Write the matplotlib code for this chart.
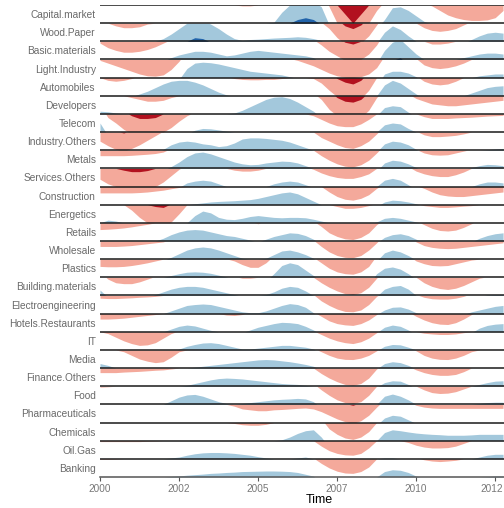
import numpy as np
import matplotlib
matplotlib.use("Agg")
import matplotlib.pyplot as plt
from matplotlib.transforms import ScaledTranslation

plt.rcParams['font.family'] = ['Liberation Sans', 'DejaVu Sans']

years = np.arange(52) * 0.25 + 2000.0

sectors = ["Capital.market", "Wood.Paper", "Basic.materials", "Light.Industry", "Automobiles",
           "Developers", "Telecom", "Industry.Others", "Metals", "Services.Others", "Construction",
           "Energetics", "Retails", "Wholesale", "Plastics", "Building.materials",
           "Electroengineering", "Hotels.Restaurants", "IT", "Media", "Finance.Others", "Food",
           "Pharmaceuticals", "Chemicals", "Oil.Gas", "Banking"]

capital_market = [0, 0, 0, 0, 0, 0, 0, 0, 0, 0, 0, 0, 0, 0, 0, 0, 0, 0, -0.05, -0.05, 0, 0, 0.05, 0.6, 1.0, 1.2,
                  1.3, 1.2, 0.9, -0.1, -1.0, -1.5, -2.0, -1.5, -1.0, -0.3, 0.2, 0.85, 0.9, 0.7, 0.4, 0.1,
                  -0.05, -0.3, -0.55, -0.7, -0.8, -0.85, -0.85, -0.82, -0.7, -0.3]
wood_paper = [0, 0, -0.15, -0.25, -0.25, -0.2, -0.05, 0, 0.15, 0.4, 0.7, 1.0, 1.2, 1.15, 0.95, 0.7, 0.4, 0.15,
              0.05, 0.1, 0.12, 0.15, 0.18, 0.2, 0.22, 0.25, 0.22, 0.15, 0.05, -0.3, -0.8, -1.15, -1.3, -1.1,
              -0.7, -0.1, 0.5, 0.85, 0.65, 0.3, 0.0, -0.25, -0.4, -0.45, -0.4, -0.3, -0.1, 0.1, 0.3, 0.45,
              0.5, 0.45]
basic_materials = [-0.1, -0.35, -0.5, -0.6, -0.6, -0.55, -0.45, -0.3, -0.1, 0.1, 0.25, 0.35, 0.45, 0.45, 0.4,
                   0.3, 0.2, 0.25, 0.35, 0.45, 0.5, 0.45, 0.4, 0.35, 0.3, 0.25, 0.2, 0.1, -0.2, -0.55, -0.8,
                   -1.05, -1.15, -1.0, -0.7, -0.2, 0.5, 0.95, 1.1, 0.7, 0.3, 0.0, -0.15, -0.15, -0.1, 0.0, 0.1,
                   0.2, 0.3, 0.35, 0.35, 0.3]
light_industry = [-0.05, -0.2, -0.35, -0.5, -0.65, -0.8, -0.9, -0.92, -0.85, -0.55, -0.1, 0.5, 0.8, 0.85, 0.82,
                  0.75, 0.65, 0.55, 0.45, 0.35, 0.3, 0.25, 0.2, 0.15, 0.05, -0.05, -0.2, -0.35, -0.55, -0.75,
                  -0.9, -0.98, -1.0, -0.95, -0.8, -0.45, 0.2, 0.35, 0.35, 0.25, 0.05, -0.3, -0.45, -0.5, -0.45,
                  -0.35, -0.2, 0.0, 0.1, 0.15, 0.2, 0.2]
automobiles = [0, -0.15, -0.2, -0.15, -0.05, 0.1, 0.25, 0.45, 0.65, 0.8, 0.85, 0.85, 0.75, 0.6, 0.4, 0.2, 0.05,
               -0.05, -0.1, -0.12, -0.12, -0.1, -0.1, -0.05, 0, 0, 0, -0.05, -0.3, -0.7, -1.05, -1.25, -1.35,
               -1.15, -0.7, 0.0, 0.6, 0.85, 0.7, 0.4, 0.1, -0.2, -0.35, -0.4, -0.35, -0.2, 0.0, 0.15, 0.3,
               0.45, 0.52, 0.55]
developers = [0.15, 0.12, 0.05, 0, -0.1, -0.2, -0.3, -0.3, -0.25, -0.1, 0, 0, 0, 0, 0, 0, 0, 0.05, 0.2, 0.4,
              0.6, 0.8, 0.92, 0.95, 0.85, 0.65, 0.4, 0.15, -0.2, -0.75, -1.1, -1.3, -1.35, -1.2, -0.8, -0.1,
              0.35, 0.45, 0.4, 0.1, -0.15, -0.3, -0.45, -0.5, -0.55, -0.55, -0.5, -0.45, -0.4, -0.35, -0.3,
              -0.25]
telecom = [0.5, -0.2, -0.5, -0.85, -1.1, -1.25, -1.25, -1.2, -1.0, -0.75, -0.4, -0.1, 0.1, 0.2, 0.18, 0.12,
           0.05, 0, 0, 0, 0, 0, 0, 0, 0, 0, 0, -0.1, -0.3, -0.5, -0.65, -0.7, -0.7, -0.55, -0.3, 0.0, 0.4, 0.5,
           0.45, 0.2, 0.0, -0.15, -0.25, -0.25, -0.25, -0.22, -0.2, -0.18, -0.15, -0.12, -0.1, -0.08]
industry_others = [-0.5, -0.75, -0.95, -1.05, -0.9, -0.7, -0.45, -0.2, 0.05, 0.3, 0.45, 0.5, 0.45, 0.35, 0.3,
                   0.2, 0.25, 0.4, 0.62, 0.68, 0.68, 0.65, 0.6, 0.55, 0.45, 0.3, 0.15, 0.0, -0.3, -0.5, -0.7,
                   -0.85, -0.9, -0.75, -0.5, -0.1, 0.35, 0.5, 0.45, 0.3, 0.05, -0.15, -0.25, -0.25, -0.22,
                   -0.18, -0.1, 0.0, 0.0, 0.03, 0.07, 0.1]
metals = [-0.3, -0.3, -0.3, -0.3, -0.28, -0.25, -0.22, -0.18, -0.1, 0.1, 0.35, 0.65, 0.85, 0.9, 0.8, 0.65, 0.5,
          0.35, 0.25, 0.2, 0.22, 0.3, 0.35, 0.4, 0.38, 0.3, 0.15, 0.0, -0.3, -0.55, -0.75, -0.88, -0.92, -0.8,
          -0.55, -0.15, 0.3, 0.45, 0.4, 0.25, 0.05, -0.15, -0.25, -0.27, -0.25, -0.15, -0.05, 0.05, 0.15,
          0.22, 0.2, 0.15]
services_others = [-0.6, -0.85, -1.0, -1.1, -1.18, -1.18, -1.12, -1.0, -0.75, -0.4, -0.05, 0.2, 0.3, 0.35, 0.3,
                   0.15, 0.0, -0.1, -0.15, -0.15, -0.1, 0.0, 0.15, 0.25, 0.3, 0.25, 0.1, -0.05, -0.25, -0.4,
                   -0.5, -0.55, -0.55, -0.45, -0.3, 0.0, 0.35, 0.45, 0.35, 0.1, -0.15, -0.3, -0.4, -0.45, -0.45,
                   -0.35, -0.2, 0.0, 0.15, 0.25, 0.25, 0.2]
construction = [-0.35, -0.35, -0.35, -0.35, -0.35, -0.33, -0.3, -0.25, -0.2, -0.12, -0.05, 0.0, 0.05, 0.1,
                0.15, 0.18, 0.2, 0.22, 0.25, 0.28, 0.35, 0.45, 0.55, 0.65, 0.7, 0.6, 0.4, 0.2, 0.0, -0.3,
                -0.55, -0.7, -0.75, -0.65, -0.45, -0.1, 0.15, 0.25, 0.22, 0.15, 0.05, -0.1, -0.3, -0.45, -0.52,
                -0.55, -0.55, -0.5, -0.45, -0.4, -0.35, -0.3]
energetics = [0.0, 0.15, 0.1, 0.0, -0.3, -0.7, -1.0, -1.1, -1.15, -0.95, -0.5, 0.0, 0.4, 0.65, 0.55, 0.3, 0.2,
              0.18, 0.25, 0.35, 0.4, 0.35, 0.3, 0.28, 0.3, 0.3, 0.28, 0.2, 0.1, 0.0, -0.1, -0.2, -0.2, -0.15,
              -0.05, 0.05, 0.25, 0.3, 0.25, 0.15, 0.05, -0.05, -0.1, -0.15, -0.15, -0.12, -0.08, -0.05, 0.0,
              0.0, 0.0, 0.0]
retails = [-0.37, -0.35, -0.32, -0.28, -0.22, -0.15, -0.08, 0.0, 0.15, 0.35, 0.5, 0.6, 0.63, 0.6, 0.5, 0.4, 0.3,
           0.25, 0.15, 0.05, -0.05, 0.1, 0.25, 0.35, 0.45, 0.42, 0.3, 0.1, -0.2, -0.55, -0.75, -0.88, -0.92,
           -0.8, -0.55, -0.1, 0.2, 0.35, 0.4, 0.3, 0.1, -0.1, -0.3, -0.42, -0.45, -0.4, -0.25, -0.05, 0.15,
           0.3, 0.4, 0.45]
wholesale = [-0.3, -0.3, -0.3, -0.28, -0.25, -0.2, -0.15, -0.1, -0.05, 0.1, 0.3, 0.5, 0.62, 0.67, 0.62, 0.5,
             0.35, 0.2, 0.05, 0.0, 0.0, 0.05, 0.25, 0.45, 0.5, 0.4, 0.25, 0.05, -0.3, -0.6, -0.8, -0.9, -0.92,
             -0.8, -0.5, -0.1, 0.35, 0.5, 0.4, 0.2, -0.05, -0.25, -0.35, -0.4, -0.42, -0.4, -0.35, -0.3, -0.25,
             -0.2, -0.15, -0.1]
plastics = [-0.4, -0.42, -0.42, -0.4, -0.35, -0.28, -0.2, -0.1, 0.0, 0.1, 0.2, 0.28, 0.3, 0.28, 0.22, 0.12,
            0.02, -0.1, -0.3, -0.45, -0.45, -0.2, 0.2, 0.65, 0.8, 0.7, 0.4, 0.1, -0.2, -0.5, -0.7, -0.8, -0.83,
            -0.7, -0.4, 0.2, 0.5, 0.57, 0.45, 0.2, -0.1, -0.25, -0.35, -0.37, -0.35, -0.25, -0.15, -0.05, 0.0,
            0.0, 0.0, 0.0]
building_materials = [0.3, -0.1, -0.3, -0.35, -0.35, -0.25, -0.1, 0.05, 0.2, 0.35, 0.45, 0.5, 0.5, 0.45, 0.35,
                      0.25, 0.15, 0.05, -0.05, -0.05, 0.0, 0.05, 0.2, 0.4, 0.5, 0.45, 0.25, 0.0, -0.3, -0.55,
                      -0.75, -0.9, -0.95, -0.85, -0.55, -0.05, 0.35, 0.5, 0.55, 0.35, 0.0, -0.3, -0.5, -0.62,
                      -0.67, -0.6, -0.45, -0.25, -0.05, 0.03, 0.05, 0.05]
electroengineering = [-0.15, -0.17, -0.17, -0.15, -0.13, -0.1, -0.08, -0.05, 0.0, 0.15, 0.3, 0.45, 0.5, 0.53,
                      0.5, 0.4, 0.3, 0.2, 0.1, 0.05, 0.05, 0.15, 0.3, 0.45, 0.55, 0.5, 0.35, 0.05, -0.3, -0.55,
                      -0.75, -0.88, -0.9, -0.8, -0.5, -0.05, 0.2, 0.35, 0.37, 0.25, 0.05, -0.1, -0.18, -0.2,
                      -0.2, -0.15, -0.05, 0.1, 0.2, 0.3, 0.4, 0.45]
hotels_restaurants = [-0.3, -0.3, -0.28, -0.25, -0.2, -0.15, -0.1, -0.05, 0.0, 0.15, 0.3, 0.37, 0.32, 0.2, 0.08,
                      0.0, -0.08, -0.1, -0.05, 0.1, 0.25, 0.35, 0.45, 0.52, 0.5, 0.45, 0.3, 0.1, -0.15, -0.4,
                      -0.55, -0.62, -0.65, -0.55, -0.35, -0.05, 0.25, 0.37, 0.3, 0.1, -0.15, -0.35, -0.5, -0.58,
                      -0.6, -0.5, -0.3, -0.05, 0.2, 0.35, 0.42, 0.45]
it = [0.0, -0.1, -0.3, -0.5, -0.65, -0.75, -0.72, -0.6, -0.35, -0.1, 0.05, 0.2, 0.3, 0.38, 0.4, 0.35, 0.25, 0.15,
      0.05, 0.05, 0.1, 0.15, 0.2, 0.25, 0.25, 0.2, 0.15, 0.05, -0.15, -0.35, -0.5, -0.6, -0.65, -0.55, -0.35,
      -0.05, 0.2, 0.3, 0.28, 0.15, 0.0, -0.08, -0.12, -0.15, -0.15, -0.12, -0.05, 0.0, 0.0, 0.0, 0.0, 0.0]
media = [0.25, 0.15, 0.0, -0.1, -0.3, -0.5, -0.62, -0.7, -0.65, -0.4, -0.1, 0.0, 0.05, 0.1, 0.15, 0.2, 0.25, 0.3,
         0.35, 0.4, 0.45, 0.47, 0.45, 0.4, 0.35, 0.28, 0.2, 0.1, -0.1, -0.3, -0.45, -0.52, -0.53, -0.45, -0.3,
         -0.05, 0.25, 0.35, 0.3, 0.15, -0.05, -0.3, -0.45, -0.52, -0.53, -0.45, -0.3, -0.1, 0.0, 0.0, 0.0, 0.0]
finance_others = [-0.25, -0.25, -0.25, -0.22, -0.2, -0.18, -0.15, -0.12, -0.1, -0.05, 0.0, 0.05, 0.15, 0.25,
                  0.35, 0.42, 0.45, 0.43, 0.4, 0.35, 0.3, 0.25, 0.2, 0.15, 0.12, 0.1, 0.05, 0.0, -0.3, -0.55,
                  -0.75, -0.9, -0.95, -0.85, -0.55, -0.05, 0.2, 0.3, 0.28, 0.1, -0.1, -0.25, -0.35, -0.4, -0.4,
                  -0.35, -0.2, 0.0, 0.1, 0.2, 0.28, 0.3]
food = [-0.05, -0.03, 0, 0, 0, 0, 0, 0, 0.0, 0.2, 0.4, 0.52, 0.55, 0.45, 0.3, 0.15, 0.05, 0.0, 0.05, 0.1, 0.15,
        0.2, 0.25, 0.28, 0.3, 0.33, 0.3, 0.15, -0.2, -0.5, -0.75, -0.9, -0.95, -0.85, -0.5, 0.0, 0.45, 0.57,
        0.45, 0.25, 0.0, -0.2, -0.35, -0.4, -0.38, -0.3, -0.15, 0.0, 0.05, 0.1, 0.12, 0.12]
pharmaceuticals = [0, 0, 0, 0, 0, 0, 0, 0, 0, 0, 0, 0, 0, 0, 0, 0, 0.0, -0.1, -0.25, -0.3, -0.35, -0.35, -0.3,
                   -0.28, -0.25, -0.22, -0.2, -0.25, -0.4, -0.6, -0.8, -0.95, -1.05, -0.9, -0.6, -0.15, 0.25,
                   0.4, 0.35, 0.15, -0.05, -0.15, -0.2, -0.22, -0.22, -0.22, -0.22, -0.22, -0.22, -0.22,
                   -0.22, -0.22]
chemicals = [0, 0, 0, 0, 0, 0, 0, 0, 0, 0, 0, 0, 0, 0, 0, 0, 0, -0.05, -0.12, -0.15, -0.15, -0.1, 0.0, 0.05,
             0.2, 0.4, 0.55, 0.6, 0.2, -0.35, -0.65, -0.85, -0.93, -0.8, -0.5, 0.0, 0.45, 0.6, 0.55, 0.48, 0.42,
             0.38, 0.35, 0.33, 0.3, 0.3, 0.3, 0.32, 0.35, 0.35, 0.35, 0.35]
oil_gas = [-0.05, -0.05, -0.05, -0.05, -0.05, -0.05, -0.03, -0.02, 0.0, 0.05, 0.1, 0.2, 0.28, 0.33, 0.35, 0.35,
           0.33, 0.3, 0.25, 0.2, 0.12, 0.05, 0.0, 0.0, 0.0, 0.05, 0.1, 0.0, -0.3, -0.55, -0.7, -0.78, -0.8,
           -0.7, -0.4, 0.0, 0.05, 0.05, 0.0, -0.1, -0.25, -0.35, -0.4, -0.4, -0.38, -0.3, -0.15, 0.0, 0.1, 0.2,
           0.25, 0.25]
banking = [-0.03, -0.03, -0.02, 0, 0, 0, 0, 0, 0.0, 0.03, 0.06, 0.1, 0.13, 0.16, 0.2, 0.22, 0.25, 0.27, 0.3,
           0.31, 0.32, 0.33, 0.33, 0.32, 0.3, 0.25, 0.15, 0.05, -0.25, -0.5, -0.68, -0.78, -0.8, -0.7, -0.45,
           0.0, 0.3, 0.4, 0.37, 0.25, 0.05, -0.05, -0.12, -0.15, -0.12, -0.08, 0.0, 0.0, 0.0, 0.02, 0.05, 0.05]

series = [capital_market, wood_paper, basic_materials, light_industry, automobiles, developers, telecom,
          industry_others, metals, services_others, construction, energetics, retails, wholesale, plastics,
          building_materials, electroengineering, hotels_restaurants, it, media, finance_others, food,
          pharmaceuticals, chemicals, oil_gas, banking]

tick_pos = [2000, 2002.5, 2005, 2007.5, 2010, 2012.5]
tick_labels = ["2000", "2002", "2005", "2007", "2010", "2012"]

LIGHT_BLUE = "#A3C8DC"
DARK_BLUE = "#2163AA"
LIGHT_RED = "#F4A99B"
DARK_RED = "#B2111F"

W, H = 504, 508
fig = plt.figure(figsize=(W / 100, H / 100), dpi=100)
ax = fig.add_axes([100 / W, 1 - 477 / H, 404 / W, 472 / H])

n = len(sectors)
tt = np.linspace(years[0], years[-1], 1500)
for r, (name, vals) in enumerate(zip(sectors, series)):
    v = np.interp(tt, years, np.asarray(vals, dtype=float))
    top = n - r
    base = top - 1
    ax.fill_between(tt, base, base + np.clip(v, 0, 1), color=LIGHT_BLUE, lw=0)
    ax.fill_between(tt, base, base + np.clip(v - 1, 0, 1), color=DARK_BLUE, lw=0)
    ax.fill_between(tt, top - np.clip(-v, 0, 1), top, color=LIGHT_RED, lw=0)
    ax.fill_between(tt, top - np.clip(-v - 1, 0, 1), top, color=DARK_RED, lw=0)

for k in range(1, n + 1):
    ax.axhline(k, color="#1a1a1a", lw=1.1, zorder=5)

ax.set_xlim(2000, 2012.78)
ax.set_ylim(0, n)
ax.set_yticks([n - r - 0.5 for r in range(n)])
ax.set_yticklabels(sectors, color="#6a6a6a", fontsize=7.3)
ax.tick_params(axis="y", length=0, pad=3)
ax.set_xticks(tick_pos)
ax.set_xticklabels(tick_labels, color="#777777", fontsize=7.2)
ax.tick_params(axis="x", length=3, width=0.8, color="#555555", pad=2)
last = ax.get_xticklabels()[-1]
last.set_transform(last.get_transform() + ScaledTranslation(-3.5 / 100, 0, fig.dpi_scale_trans))
for s in ["top", "right", "left"]:
    ax.spines[s].set_visible(False)
ax.spines["bottom"].set_color("#555555")
ax.spines["bottom"].set_linewidth(1.1)
ax.set_xlabel("Time", fontsize=9, color="black", labelpad=1)
ax.xaxis.set_label_coords((319.5 - 100) / 404, -0.035)

fig.savefig("out.png", dpi=100)
